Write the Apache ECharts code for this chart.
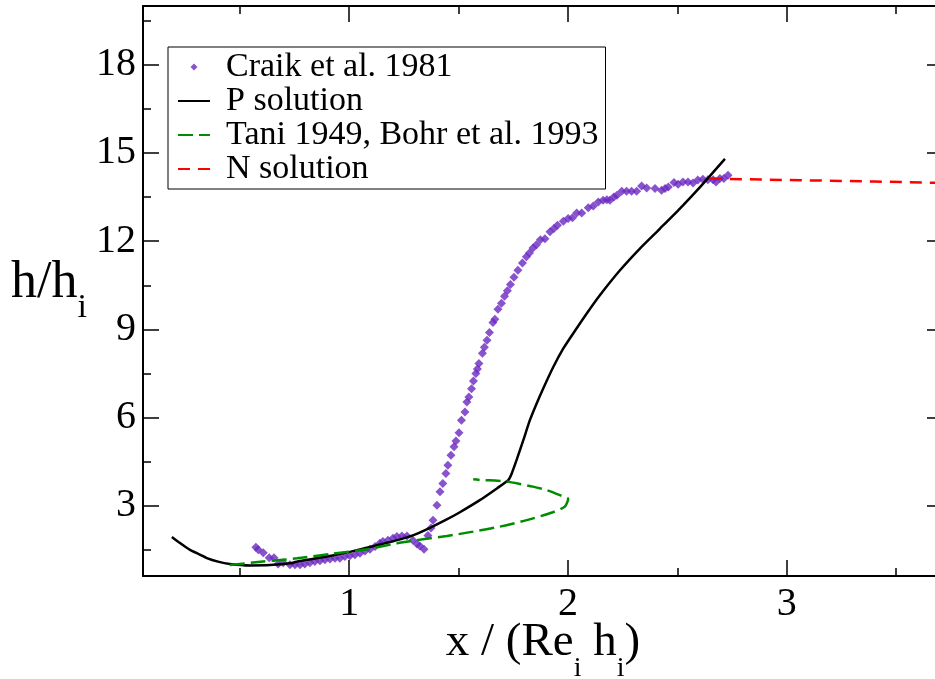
<!DOCTYPE html>
<html><head><meta charset="utf-8">
<script src="https://cdn.jsdelivr.net/npm/echarts@6/dist/echarts.min.js"></script>
<style>html,body{margin:0;padding:0;background:#fff}#c{width:935px;height:679px}</style>
</head><body><div id="c"></div>
<script>
// Craik et al. 1981 (experimental points)
const craikX = [0.573,0.584,0.607,0.634,0.656,0.675,0.698,0.729,0.752,0.775,0.797,0.820,0.843,0.866,0.889,0.912,0.935,0.957,0.980,1.003,1.026,1.049,1.072,1.095,1.118,1.140,1.154,1.177,1.200,1.218,1.241,1.264,1.291,1.310,1.323,1.342,1.360,1.374,1.383,1.401,1.415,1.428,1.442,1.451,1.465,1.479,1.488,1.502,1.513,1.529,1.538,1.547,1.559,1.568,1.579,1.586,1.593,1.609,1.618,1.630,1.641,1.657,1.666,1.680,1.696,1.710,1.723,1.737,1.753,1.771,1.792,1.810,1.824,1.840,1.856,1.874,1.895,1.918,1.936,1.952,1.979,2.001,2.021,2.040,2.063,2.093,2.116,2.139,2.161,2.178,2.192,2.210,2.224,2.246,2.268,2.291,2.314,2.337,2.360,2.398,2.428,2.444,2.459,2.485,2.504,2.526,2.549,2.572,2.594,2.617,2.640,2.664,2.677,2.695,2.713,2.732];
const craikY = [1.59,1.50,1.40,1.23,1.23,1.02,1.06,0.99,0.99,0.99,1.02,1.06,1.10,1.13,1.16,1.19,1.21,1.21,1.27,1.30,1.33,1.38,1.46,1.52,1.61,1.72,1.78,1.83,1.89,1.95,1.97,1.97,1.83,1.70,1.63,1.52,1.99,2.24,2.51,3.02,3.48,3.76,4.10,4.38,4.72,5.01,5.20,5.48,5.91,6.19,6.53,6.70,6.98,7.24,7.50,7.65,7.84,8.19,8.39,8.63,8.89,9.23,9.34,9.68,9.89,10.13,10.31,10.53,10.77,11.01,11.26,11.47,11.60,11.77,11.88,12.05,12.08,12.32,12.43,12.54,12.68,12.77,12.80,12.96,12.96,13.14,13.20,13.33,13.39,13.41,13.39,13.50,13.56,13.70,13.70,13.70,13.70,13.88,13.81,13.79,13.73,13.79,13.84,14.00,13.94,14.01,14.01,13.98,14.08,14.11,14.09,14.09,14.01,14.13,14.13,14.24];
// P solution
const pX = [0.189,0.226,0.272,0.317,0.349,0.400,0.454,0.546,0.637,0.729,0.775,0.912,1.003,1.140,1.220,1.291,1.369,1.437,1.506,1.597,1.675,1.727,1.743,1.765,1.796,1.826,1.857,1.887,1.933,1.979,2.024,2.086,2.146,2.238,2.329,2.421,2.512,2.604,2.718];
const pY = [1.94,1.73,1.50,1.34,1.22,1.10,1.02,0.97,0.98,1.04,1.12,1.29,1.43,1.68,1.83,1.99,2.25,2.50,2.78,3.19,3.59,3.87,4.10,4.55,5.23,5.91,6.48,6.99,7.72,8.35,8.86,9.54,10.16,11.01,11.75,12.43,13.11,13.84,14.80];
// Tani 1949, Bohr et al. 1993
const taniX = [0.454,0.605,0.761,0.912,1.063,1.218,1.337,1.447,1.566,1.689,1.812,1.931,1.986,2.001,1.963,1.904,1.840,1.781,1.722,1.666,1.611,1.567];
const taniY = [0.985,1.10,1.21,1.36,1.50,1.72,1.86,1.97,2.12,2.29,2.51,2.78,2.97,3.23,3.36,3.53,3.65,3.74,3.82,3.86,3.87,3.90];
// N solution
const nX = [2.649,3.0,3.4,3.715];
const nY = [14.13,14.08,14.03,13.98];
// axes
const xMin = 0.057, xMax = 3.715;
const yMin = 0.61, yMax = 20;
const xMajor = [1,2,3];
const xMinor = [0.5,1.5,2.5,3.5];
const yMajor = [3,6,9,12,15,18];
const yMinor = [1.5,4.5,7.5,10.5,13.5,16.5,19.5];
const legendNames = ['Craik et al. 1981','P solution','Tani 1949, Bohr et al. 1993','N solution'];

const zip = (a,b) => a.map((v,i)=>[v,b[i]]);
const FONT = 'Liberation Serif';
const black = '#000';
const purple = '#6a28c0', green = '#008c00', red = '#ff0000';

function xAx(pos, ticks, len, showLine, labels) {
  return {
    type:'value', position:pos, min:xMin, max:xMax, gridIndex:0,
    axisLine:{show:showLine, onZero:false, lineStyle:{color:black,width:2}},
    axisTick:{show:true, inside:true, length:len, customValues:ticks, lineStyle:{color:black,width:1.5}},
    axisLabel: labels ? {show:true, customValues:xMajor, margin:8, color:black, fontFamily:FONT, fontSize:40} : {show:false},
    splitLine:{show:false}
  };
}
function yAx(pos, ticks, len, showLine, labels) {
  return {
    type:'value', position:pos, min:yMin, max:yMax, gridIndex:0,
    axisLine:{show:showLine, onZero:false, lineStyle:{color:black,width:2}},
    axisTick:{show:true, inside:true, length:len, customValues:ticks, lineStyle:{color:black,width:1.5}},
    axisLabel: labels ? {show:true, customValues:yMajor, margin:7, color:black, fontFamily:FONT, fontSize:40} : {show:false},
    splitLine:{show:false}
  };
}

const xAxes = [
  xAx('bottom', xMinor.concat(xMajor), 8, true, true),
  xAx('bottom', xMajor, 16, false, false),
  xAx('top', xMinor.concat(xMajor), 8, true, false),
  xAx('top', xMajor, 16, false, false)
];
xAxes[0].name = '{m|x / (Re}{s|i}{m| h}{s|i}{m|)}';
xAxes[0].nameLocation = 'middle';
xAxes[0].nameGap = 27;
xAxes[0].nameMoveOverlap = false;
xAxes[0].nameTextStyle = {color:black, fontFamily:FONT, rich:{
  m:{fontSize:47, lineHeight:80, fontFamily:FONT, color:black},
  s:{fontSize:28, lineHeight:28, padding:[52,0,0,0], fontFamily:FONT, color:black}
}};
const yAxes = [
  yAx('left', yMinor.concat(yMajor), 8, true, true),
  yAx('left', yMajor, 16, false, false),
  yAx('right', yMinor.concat(yMajor), 8, true, false),
  yAx('right', yMajor, 16, false, false)
];
yAxes[0].name = '{m|h/h}{s|i}';
yAxes[0].nameLocation = 'middle';
yAxes[0].nameRotate = 0;
yAxes[0].nameGap = 56;
yAxes[0].nameMoveOverlap = false;
yAxes[0].nameTextStyle = {color:black, fontFamily:FONT, padding:[0,0,16,0], rich:{
  m:{fontSize:52, lineHeight:84, fontFamily:FONT, color:black},
  s:{fontSize:34, lineHeight:34, padding:[50,0,0,0], fontFamily:FONT, color:black}
}};

const hiddenDot = {color:'rgba(0,0,0,0)', borderWidth:0, opacity:0};

const chart = echarts.init(document.getElementById('c'), null, {renderer:'canvas'});
chart.setOption({
  animation:false,
  backgroundColor:'#fff',
  grid:{left:143, top:6, right:-8, bottom:103, containLabel:false, outerBoundsMode:'none'},
  xAxis:xAxes,
  yAxis:yAxes,
  legend:{
    orient:'vertical', left:168, top:47, padding:[3,7,3,9],
    borderColor:black, borderWidth:1, backgroundColor:'#fff',
    itemWidth:32, itemHeight:7, itemGap:0, symbolKeepAspect:true,
    textStyle:{fontFamily:FONT, fontSize:34, lineHeight:33, color:black, padding:[0,0,0,11]},
    data:[
      {name:legendNames[0], icon:'path://M0,-1L1,0L0,1L-1,0Z'},
      {name:legendNames[1], itemStyle:hiddenDot},
      {name:legendNames[2], itemStyle:hiddenDot},
      {name:legendNames[3], itemStyle:hiddenDot}
    ]
  },
  series:[
    {name:legendNames[0], type:'scatter', data:zip(craikX,craikY), symbol:'diamond', symbolSize:9,
     itemStyle:{color:purple}, xAxisIndex:0, yAxisIndex:0},
    {name:legendNames[1], type:'line', data:zip(pX,pY), symbol:'none', smooth:0.2,
     lineStyle:{color:black, width:2.5}, itemStyle:{color:black}, xAxisIndex:0, yAxisIndex:0},
    {name:legendNames[2], type:'line', data:zip(taniX,taniY), symbol:'none', smooth:0.25,
     lineStyle:{color:green, width:2.5, type:[15,6]}, itemStyle:{color:green}, xAxisIndex:0, yAxisIndex:0},
    {name:legendNames[3], type:'line', data:zip(nX,nY), symbol:'none', smooth:false,
     lineStyle:{color:red, width:2.5, type:[12,8]}, itemStyle:{color:red}, xAxisIndex:0, yAxisIndex:0}
  ]
});
</script></body></html>
